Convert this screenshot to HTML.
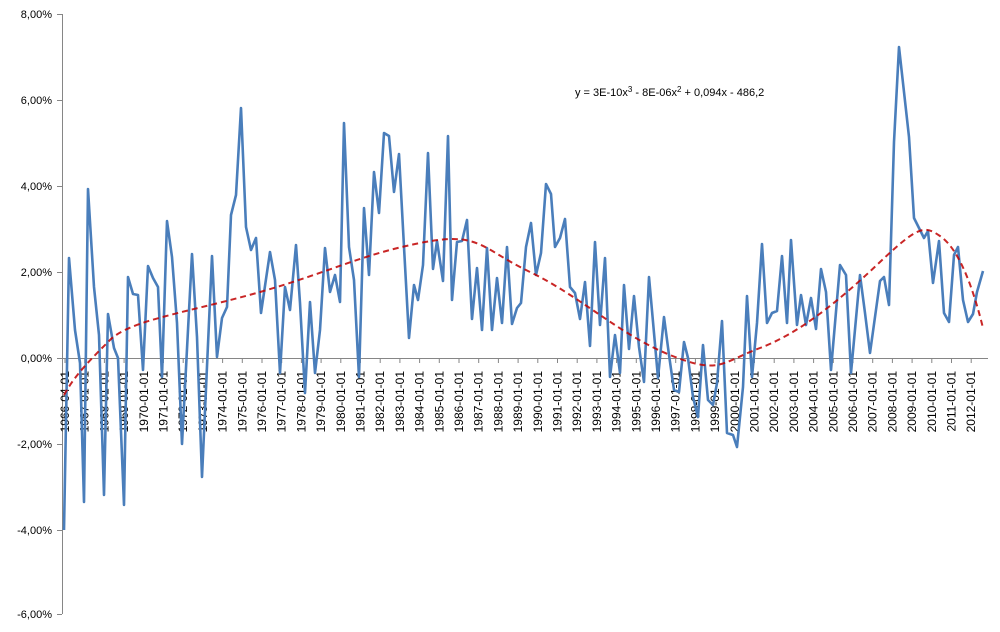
<!DOCTYPE html>
<html><head><meta charset="utf-8"><style>body{margin:0;background:#fff}svg{display:block}text{font-family:"Liberation Sans",sans-serif;fill:#000}</style></head><body>
<svg width="1000" height="632" xmlns="http://www.w3.org/2000/svg">
<g font-size="11" text-anchor="end">
<text x="52" y="18">8,00%</text><text x="52" y="104">6,00%</text><text x="52" y="190">4,00%</text><text x="52" y="276">2,00%</text><text x="52" y="362">0,00%</text><text x="52" y="448">-2,00%</text><text x="52" y="534">-4,00%</text><text x="52" y="618">-6,00%</text>
</g>
<g stroke="#868686" stroke-width="1">
<line x1="62.5" y1="14" x2="62.5" y2="614"/>
<line x1="57" y1="14.5" x2="62" y2="14.5"/><line x1="57" y1="100.5" x2="62" y2="100.5"/><line x1="57" y1="186.5" x2="62" y2="186.5"/><line x1="57" y1="272.5" x2="62" y2="272.5"/><line x1="57" y1="444.5" x2="62" y2="444.5"/><line x1="57" y1="530.5" x2="62" y2="530.5"/><line x1="57" y1="614.5" x2="62" y2="614.5"/>
<line x1="57" y1="358.5" x2="988" y2="358.5"/>
<line x1="65" y1="358" x2="65" y2="363"/><line x1="84.7" y1="358" x2="84.7" y2="363"/><line x1="104.4" y1="358" x2="104.4" y2="363"/><line x1="124.1" y1="358" x2="124.1" y2="363"/><line x1="143.8" y1="358" x2="143.8" y2="363"/><line x1="163.5" y1="358" x2="163.5" y2="363"/><line x1="183.2" y1="358" x2="183.2" y2="363"/><line x1="202.9" y1="358" x2="202.9" y2="363"/><line x1="222.6" y1="358" x2="222.6" y2="363"/><line x1="242.3" y1="358" x2="242.3" y2="363"/><line x1="262" y1="358" x2="262" y2="363"/><line x1="281.7" y1="358" x2="281.7" y2="363"/><line x1="301.4" y1="358" x2="301.4" y2="363"/><line x1="321.1" y1="358" x2="321.1" y2="363"/><line x1="340.8" y1="358" x2="340.8" y2="363"/><line x1="360.5" y1="358" x2="360.5" y2="363"/><line x1="380.2" y1="358" x2="380.2" y2="363"/><line x1="399.9" y1="358" x2="399.9" y2="363"/><line x1="419.6" y1="358" x2="419.6" y2="363"/><line x1="439.3" y1="358" x2="439.3" y2="363"/><line x1="459" y1="358" x2="459" y2="363"/><line x1="478.7" y1="358" x2="478.7" y2="363"/><line x1="498.4" y1="358" x2="498.4" y2="363"/><line x1="518.1" y1="358" x2="518.1" y2="363"/><line x1="537.8" y1="358" x2="537.8" y2="363"/><line x1="557.5" y1="358" x2="557.5" y2="363"/><line x1="577.2" y1="358" x2="577.2" y2="363"/><line x1="596.9" y1="358" x2="596.9" y2="363"/><line x1="616.6" y1="358" x2="616.6" y2="363"/><line x1="636.3" y1="358" x2="636.3" y2="363"/><line x1="656" y1="358" x2="656" y2="363"/><line x1="675.7" y1="358" x2="675.7" y2="363"/><line x1="695.4" y1="358" x2="695.4" y2="363"/><line x1="715.1" y1="358" x2="715.1" y2="363"/><line x1="734.8" y1="358" x2="734.8" y2="363"/><line x1="754.5" y1="358" x2="754.5" y2="363"/><line x1="774.2" y1="358" x2="774.2" y2="363"/><line x1="793.9" y1="358" x2="793.9" y2="363"/><line x1="813.6" y1="358" x2="813.6" y2="363"/><line x1="833.3" y1="358" x2="833.3" y2="363"/><line x1="853" y1="358" x2="853" y2="363"/><line x1="872.7" y1="358" x2="872.7" y2="363"/><line x1="892.4" y1="358" x2="892.4" y2="363"/><line x1="912.1" y1="358" x2="912.1" y2="363"/><line x1="931.8" y1="358" x2="931.8" y2="363"/><line x1="951.5" y1="358" x2="951.5" y2="363"/><line x1="971.2" y1="358" x2="971.2" y2="363"/>
</g>
<g font-size="12" text-anchor="end">
<text transform="translate(69,371) rotate(-90)">1966-04-01</text>
<text transform="translate(88.7,371) rotate(-90)">1967-01-01</text>
<text transform="translate(108.4,371) rotate(-90)">1968-01-01</text>
<text transform="translate(128.1,371) rotate(-90)">1969-01-01</text>
<text transform="translate(147.8,371) rotate(-90)">1970-01-01</text>
<text transform="translate(167.5,371) rotate(-90)">1971-01-01</text>
<text transform="translate(187.2,371) rotate(-90)">1972-01-01</text>
<text transform="translate(206.9,371) rotate(-90)">1973-01-01</text>
<text transform="translate(226.6,371) rotate(-90)">1974-01-01</text>
<text transform="translate(246.3,371) rotate(-90)">1975-01-01</text>
<text transform="translate(266,371) rotate(-90)">1976-01-01</text>
<text transform="translate(285.7,371) rotate(-90)">1977-01-01</text>
<text transform="translate(305.4,371) rotate(-90)">1978-01-01</text>
<text transform="translate(325.1,371) rotate(-90)">1979-01-01</text>
<text transform="translate(344.8,371) rotate(-90)">1980-01-01</text>
<text transform="translate(364.5,371) rotate(-90)">1981-01-01</text>
<text transform="translate(384.2,371) rotate(-90)">1982-01-01</text>
<text transform="translate(403.9,371) rotate(-90)">1983-01-01</text>
<text transform="translate(423.6,371) rotate(-90)">1984-01-01</text>
<text transform="translate(443.3,371) rotate(-90)">1985-01-01</text>
<text transform="translate(463,371) rotate(-90)">1986-01-01</text>
<text transform="translate(482.7,371) rotate(-90)">1987-01-01</text>
<text transform="translate(502.4,371) rotate(-90)">1988-01-01</text>
<text transform="translate(522.1,371) rotate(-90)">1989-01-01</text>
<text transform="translate(541.8,371) rotate(-90)">1990-01-01</text>
<text transform="translate(561.5,371) rotate(-90)">1991-01-01</text>
<text transform="translate(581.2,371) rotate(-90)">1992-01-01</text>
<text transform="translate(600.9,371) rotate(-90)">1993-01-01</text>
<text transform="translate(620.6,371) rotate(-90)">1994-01-01</text>
<text transform="translate(640.3,371) rotate(-90)">1995-01-01</text>
<text transform="translate(660,371) rotate(-90)">1996-01-01</text>
<text transform="translate(679.7,371) rotate(-90)">1997-01-01</text>
<text transform="translate(699.4,371) rotate(-90)">1998-01-01</text>
<text transform="translate(719.1,371) rotate(-90)">1999-01-01</text>
<text transform="translate(738.8,371) rotate(-90)">2000-01-01</text>
<text transform="translate(758.5,371) rotate(-90)">2001-01-01</text>
<text transform="translate(778.2,371) rotate(-90)">2002-01-01</text>
<text transform="translate(797.9,371) rotate(-90)">2003-01-01</text>
<text transform="translate(817.6,371) rotate(-90)">2004-01-01</text>
<text transform="translate(837.3,371) rotate(-90)">2005-01-01</text>
<text transform="translate(857,371) rotate(-90)">2006-01-01</text>
<text transform="translate(876.7,371) rotate(-90)">2007-01-01</text>
<text transform="translate(896.4,371) rotate(-90)">2008-01-01</text>
<text transform="translate(916.1,371) rotate(-90)">2009-01-01</text>
<text transform="translate(935.8,371) rotate(-90)">2010-01-01</text>
<text transform="translate(955.5,371) rotate(-90)">2011-01-01</text>
<text transform="translate(975.2,371) rotate(-90)">2012-01-01</text>
</g>
<polyline fill="none" stroke="#4a7ebb" stroke-width="2.6" stroke-linejoin="round" points="64,530 69,258 75,330 80,363 84,502 88,189 94,287 99,335 104,495 108,314 114,348 118,358 124,505 128,277 133,294 138,295 143,370 148,266 153,278 158,287 162,377 167,221 172,257 177,323 182,444 192,254 197,337 202,477 212,256 217,357 222,318 227,307 231,215 236,195 241,108 246,227 251,250 256,238 261,313 270,252 275,280 280,373 285,287 290,310 296,245 300,303 305,393 310,302 315,373 320,330 325,248 330,292 335,275 340,302 344,123 349,247 354,280 359,377 364,208 369,275 374,172 379,213 384,133 389,136 394,192 399,154 404,247 409,338 414,285 418,300 423,265 428,153 433,269 437,241 443,281 448,136 452,300 457,242 462,241 467,220 472,319 477,268 482,330 487,248 492,330 497,278 502,323 507,247 512,324 517,308 521,303 526,247 531,223 536,275 541,253 546,184 551,194 555,247 560,238 565,219 570,287 575,293 580,319 585,282 590,346 595,242 600,325 605,258 610,377 615,335 620,373 624,285 629,349 634,296 639,347 644,382 649,277 654,333 658,378 664,317 669,355 674,390 679,392 684,342 688,358 693,397 698,417 703,345 708,400 713,405 717,383 722,321 727,433 733,435 737,447 743,387 747,296 752,377 757,323 762,244 767,323 772,313 777,311 782,256 787,323 791,240 797,325 801,295 806,325 811,298 816,329 821,269 826,292 831,370 840,265 846,275 851,373 860,275 865,313 870,353 880,281 884,277 889,305 894,142 899,47 909,137 914,218 924,238 928,231 933,283 939,241 944,313 949,322 954,255 958,247 963,300 968,322 973,314 977,292 983,271"/>
<path fill="none" stroke="#c00000" stroke-opacity="0.85" stroke-width="2" stroke-dasharray="6,4" d="M64,395 C75,375 90,360 110,340 S190,312 260,292 S360,255 420,243 S480,248 530,272 S620,335 670,355 S720,363 760,348 S840,300 880,262 S925,226 940,236 S970,275 983,328"/>
<text x="575" y="96" font-size="11">y = 3E-10x<tspan font-size="8" dy="-4">3</tspan><tspan dy="4"> - 8E-06x</tspan><tspan font-size="8" dy="-4">2</tspan><tspan dy="4"> + 0,094x - 486,2</tspan></text>
</svg>
</body></html>
